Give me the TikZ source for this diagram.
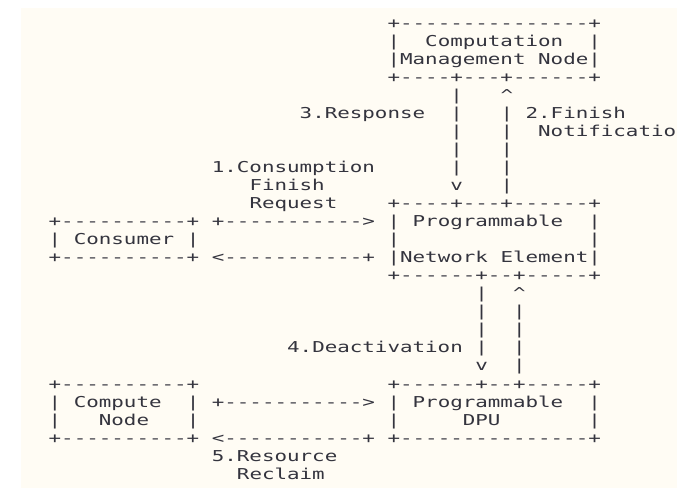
\documentclass[tikz,border=0pt]{standalone}
\usepackage{fontspec}
\setmonofont[FakeStretch=1.3897]{DejaVu Sans Mono}
\definecolor{paper}{RGB}{255,252,244}
\definecolor{ink}{RGB}{52,52,62}
\tikzset{asc/.style={anchor=base west,inner sep=0pt,outer sep=0pt,text=ink,font=\ttfamily\fontsize{15}{18}\selectfont}}
\newcommand\seg[4]{\node[asc] (#1) at ({48.7+12.55*#2},{-(28+18.05*#3)}) {#4};}
\newcommand\up{\textasciicircum}
\begin{document}
\begin{tikzpicture}[x=1pt,y=1pt]
\useasboundingbox (0,0) rectangle (677,-488);
\fill[white] (0,0) rectangle (677,-488);
\fill[paper] (21,-8) rectangle (677,-488);
% Computation Management Node
\seg{cmnA}{27}{0}{+---------------+}
\seg{cmnB}{27}{1}{|}
\seg{cmnC}{30}{1}{Computation}
\seg{cmnD}{43}{1}{|}
\seg{cmnE}{27}{2}{|Management}
\seg{cmnF}{39}{2}{Node|}
\seg{cmnG}{27}{3}{+----+---+------+}
% links CMN <-> PNE
\seg{l4a}{32}{4}{|}
\seg{l4b}{36}{4}{\up}
\seg{resp}{20}{5}{3.Response}
\seg{l5a}{32}{5}{|}
\seg{l5b}{36}{5}{|}
\seg{fin}{38}{5}{2.Finish}
\seg{l6a}{32}{6}{|}
\seg{l6b}{36}{6}{|}
\seg{notif}{39}{6}{Notification}
\seg{l7a}{32}{7}{|}
\seg{l7b}{36}{7}{|}
\seg{cons1}{13}{8}{1.Consumption}
\seg{l8a}{32}{8}{|}
\seg{l8b}{36}{8}{|}
\seg{cons2}{16}{9}{Finish}
\seg{l9a}{32}{9}{v}
\seg{l9b}{36}{9}{|}
\seg{cons3}{16}{10}{Request}
% Programmable Network Element
\seg{pneA}{27}{10}{+----+---+------+}
\seg{pneB}{27}{11}{|}
\seg{pneC}{29}{11}{Programmable}
\seg{pneD}{43}{11}{|}
\seg{pneE}{27}{12}{|}
\seg{pneF}{43}{12}{|}
\seg{pneG}{27}{13}{|Network}
\seg{pneH}{36}{13}{Element|}
\seg{pneI}{27}{14}{+------+--+-----+}
% Consumer
\seg{conA}{0}{11}{+----------+}
\seg{conB}{0}{12}{|}
\seg{conC}{2}{12}{Consumer}
\seg{conD}{11}{12}{|}
\seg{conE}{0}{13}{+----------+}
\seg{arr1}{13}{11}{+----------->}
\seg{arr2}{13}{13}{<-----------+}
% links PNE <-> DPU
\seg{l15a}{34}{15}{|}
\seg{l15b}{37}{15}{\up}
\seg{l16a}{34}{16}{|}
\seg{l16b}{37}{16}{|}
\seg{l17a}{34}{17}{|}
\seg{l17b}{37}{17}{|}
\seg{deact}{19}{18}{4.Deactivation}
\seg{l18a}{34}{18}{|}
\seg{l18b}{37}{18}{|}
\seg{l19a}{34}{19}{v}
\seg{l19b}{37}{19}{|}
% Programmable DPU
\seg{dpuA}{27}{20}{+------+--+-----+}
\seg{dpuB}{27}{21}{|}
\seg{dpuC}{29}{21}{Programmable}
\seg{dpuD}{43}{21}{|}
\seg{dpuE}{27}{22}{|}
\seg{dpuF}{33}{22}{DPU}
\seg{dpuG}{43}{22}{|}
\seg{dpuH}{27}{23}{+---------------+}
% Compute Node
\seg{cnA}{0}{20}{+----------+}
\seg{cnB}{0}{21}{|}
\seg{cnC}{2}{21}{Compute}
\seg{cnD}{11}{21}{|}
\seg{cnE}{0}{22}{|}
\seg{cnF}{4}{22}{Node}
\seg{cnG}{11}{22}{|}
\seg{cnH}{0}{23}{+----------+}
\seg{arr3}{13}{21}{+----------->}
\seg{arr4}{13}{23}{<-----------+}
\seg{rec1}{13}{24}{5.Resource}
\seg{rec2}{15}{25}{Reclaim}
\end{tikzpicture}
\end{document}
